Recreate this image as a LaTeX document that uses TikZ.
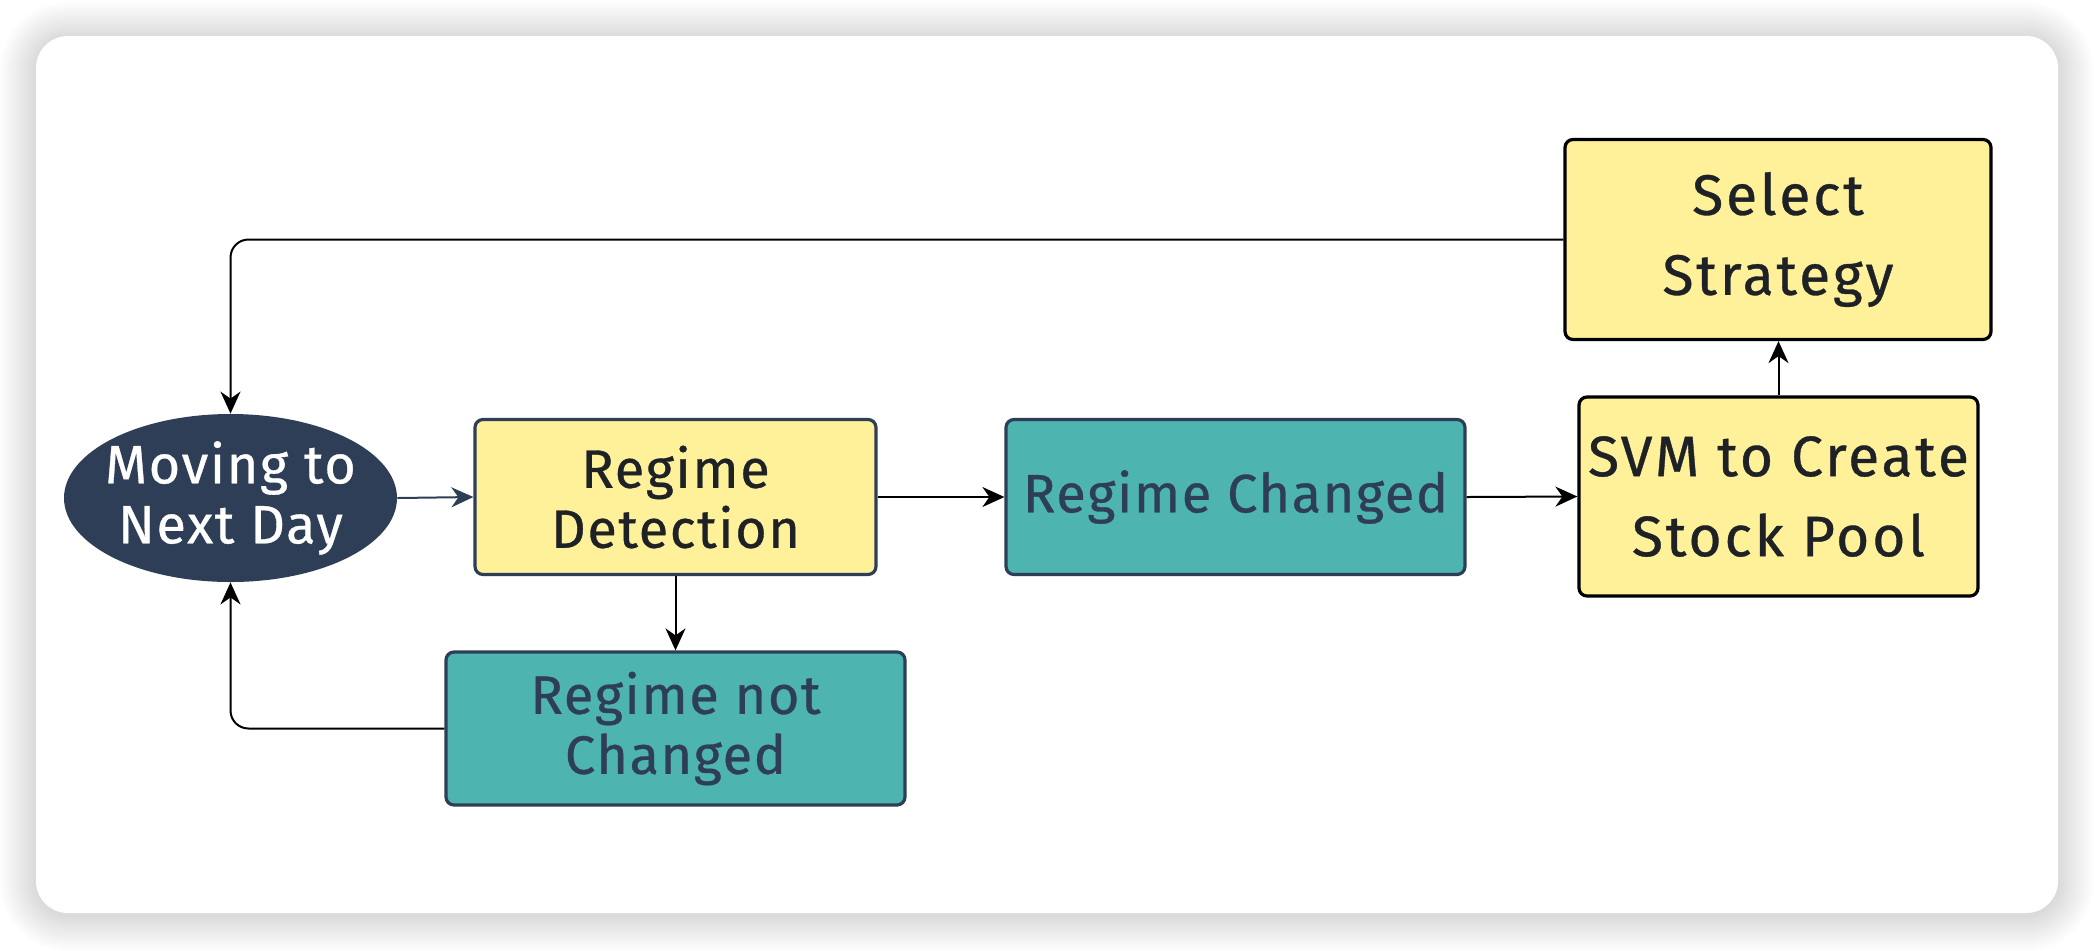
\documentclass[tikz,border=0pt]{standalone}
\usepackage{fontspec}
\setmainfont{Fira Sans}[LetterSpace=3, FakeBold=0.6]
\usetikzlibrary{arrows.meta,shapes.geometric}
\definecolor{navy}{HTML}{2E3E57}
\definecolor{yel}{HTML}{FFF09A}
\definecolor{teal}{HTML}{4DB4B0}
\definecolor{ink}{HTML}{1E2226}
\tikzset{
  box/.style={rectangle, rounded corners=4pt, line width=1.6pt, inner sep=0pt, align=center, font=\fontsize{27}{30}\selectfont},
  yelbox/.style={box, fill=yel, text=ink},
  bigbox/.style={yelbox, draw=black, font=\fontsize{28.5}{40}\selectfont\addfontfeature{LetterSpace=5}},
  tealbox/.style={box, fill=teal, draw=navy, text=navy},
  conn/.style={line width=1pt, draw=black, -{Stealth[length=11pt,width=10pt,inset=3.5pt]}},
}
\begin{document}
\begin{tikzpicture}[x=0.5pt,y=-0.5pt]
\useasboundingbox (0,0) rectangle (2094,950);
% shadow
\foreach \i in {1,...,18}{
  \fill[black,opacity=0.009,rounded corners={(16+\i)*1pt}] ({36-2*\i},{38-2*\i}) rectangle ({2058+2*\i},{915+2*\i});
}
\fill[white,rounded corners=16pt] (36,36) rectangle (2058,913);
% nodes
\node[ellipse, fill=navy, inner sep=0pt, minimum width=166.5pt, minimum height=84pt,
  label={[text=white, align=center, font=\fontsize{27}{30}\selectfont]center:Moving to\\Next Day}] (ell) at (230.5,498) {};
\node[yelbox, draw=navy, minimum width=200.5pt, minimum height=77.5pt] (rd) at (675.5,497) {Regime\\Detection};
\node[tealbox, minimum width=229.5pt, minimum height=76.5pt] (rnc) at (675.5,728.5) {Regime not\\Changed};
\node[tealbox, minimum width=229.5pt, minimum height=77.5pt] (rc) at (1235.5,497) {Regime Changed};
\node[bigbox, minimum width=199.5pt, minimum height=99.5pt] (svm) at (1778.5,496.5) {SVM to Create\\Stock Pool};
\node[bigbox, minimum width=213pt, minimum height=100pt] (sel) at (1778,239.5) {Select\\Strategy};
% connectors
\draw[conn, draw=navy] (ell.east) -- (rd.west);
\draw[conn] (rd.south) -- (rnc.north);
\draw[conn] (rd.east) -- (rc.west);
\draw[conn] (rc.east) -- (svm.west);
\draw[conn] (svm.north) -- (svm.north |- sel.south);
\draw[conn, rounded corners=9pt] (sel.west) -- (sel.west -| ell.north) -- (ell.north);
\draw[conn, rounded corners=9pt] (rnc.west) -- (rnc.west -| ell.south) -- (ell.south);
\end{tikzpicture}
\end{document}
